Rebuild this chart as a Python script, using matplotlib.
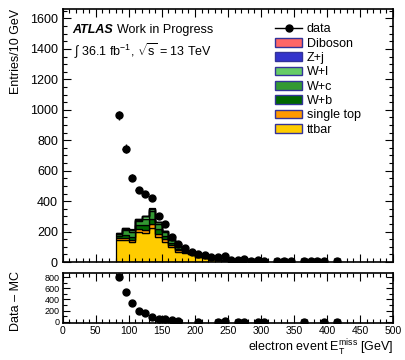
import numpy as np
import matplotlib.pyplot as plt
from matplotlib.lines import Line2D
from matplotlib.patches import Patch
from matplotlib.ticker import MultipleLocator

plt.rcParams["font.family"] = ["Liberation Sans", "DejaVu Sans"]
plt.rcParams["mathtext.fontset"] = "custom"
plt.rcParams["mathtext.rm"] = "Liberation Sans"
plt.rcParams["mathtext.it"] = "Liberation Sans:italic"
plt.rcParams["mathtext.bf"] = "Liberation Sans:bold"

nan = np.nan

# MC stack, 10 GeV bins from 80 to 300 GeV (zero above)
mc_edges = np.arange(80, 310, 10)
ttbar = [144, 144, 133, 199, 192, 221, 162, 133, 100, 68, 57, 50, 33, 28, 18, 14, 9, 5, 4, 3, 2, 2]
single_top = [12, 14, 12, 18, 18, 30, 25, 15, 12, 8, 6, 5, 3, 2, 2, 1, 1, 1, 1, 0, 0, 0]
w_b = [15, 20, 20, 25, 30, 30, 30, 22, 15, 10, 8, 5, 3, 2, 1, 1, 1, 0, 0, 0, 0, 0]
w_c = [12, 30, 35, 25, 45, 55, 35, 25, 18, 14, 8, 5, 3, 2, 2, 1, 1, 1, 0, 0, 0, 0]
w_l = [3, 10, 10, 10, 15, 12, 10, 8, 5, 3, 2, 1, 1, 1, 1, 0, 0, 0, 0, 0, 0, 0]
z_j = [2, 3, 3, 3, 3, 3, 2, 2, 2, 1, 1, 1, 1, 0, 0, 0, 0, 0, 0, 0, 0, 0]
diboson = [1, 1, 1, 1, 1, 1, 1, 1, 0, 0, 0, 0, 0, 0, 0, 0, 0, 0, 0, 0, 0, 0]

stack_names = ["ttbar", "single top", "W+b", "W+c", "W+l", "Z+j", "Diboson"]
stack_values = [ttbar, single_top, w_b, w_c, w_l, z_j, diboson]
stack_colors = ["#ffcc00", "#ff9900", "#006600", "#339933", "#66cc66", "#3333cc", "#ff6666"]

# data, bin centres 85..415 GeV
data_centers = np.arange(85, 420, 10)
data = [964, 745, 553, 472, 448, 422, 304, 247, 166, 116,
        90, 68, 52, 46, 35, 31, 41, 13, 13, 20,
        5, 10, 8, nan, 6, 6, 6, nan, 6, 6,
        6, 6, nan, 6]
data_minus_mc = [795, 529, 343, 198, 150, 90, 54, 42, 24, 12,
                 nan, nan, 2, nan, nan, 0, 18, nan, 0, 0,
                 nan, 0, 0, nan, nan, nan, nan, nan, 0, nan,
                 nan, 0, nan, 0]

fig = plt.figure(figsize=(4.05, 3.6), dpi=100)
ax = fig.add_axes([0.155, 0.2722, 0.8156, 0.7019])
rax = fig.add_axes([0.155, 0.1019, 0.8156, 0.1406])

# stacked histogram
bottom = np.zeros(len(mc_edges) - 1)
for name, vals, col in zip(stack_names, stack_values, stack_colors):
    vals = np.array(vals, dtype=float)
    ax.stairs(bottom + vals, mc_edges, baseline=bottom, fill=True,
              facecolor=col, edgecolor="black", linewidth=0.9)
    bottom = bottom + vals

data = np.array(data, dtype=float)
ax.errorbar(data_centers, data, yerr=np.sqrt(data), xerr=5, fmt="o", color="black",
            markersize=5, elinewidth=1, capsize=0)

ax.set_xlim(0, 500)
ax.set_ylim(0, 1660)
ax.xaxis.set_major_locator(MultipleLocator(50))
ax.xaxis.set_minor_locator(MultipleLocator(10))
ax.yaxis.set_major_locator(MultipleLocator(200))
ax.yaxis.set_minor_locator(MultipleLocator(50))
ax.tick_params(which="both", direction="in", top=True, right=True, labelbottom=False)
ax.tick_params(which="major", length=6, width=0.8, labelsize=9)
ax.tick_params(which="minor", length=3, width=0.8)
for s in ax.spines.values():
    s.set_linewidth(1.2)

ax.set_ylabel("Entries/10 GeV", fontsize=9, loc="top")
ax.yaxis.set_label_coords(-0.122, 1.0)

ax.text(0.03, 0.905, "ATLAS", transform=ax.transAxes, fontsize=9,
        fontweight="bold", fontstyle="italic")
ax.text(0.165, 0.905, "Work in Progress", transform=ax.transAxes, fontsize=9)
ax.text(0.035, 0.815, r"$\int$ 36.1 fb$^{-1}$, $\sqrt{\mathrm{s}}$ = 13 TeV",
        transform=ax.transAxes, fontsize=9)

handles = [Line2D([], [], color="black", marker="o", markersize=5, linewidth=1)]
labels = ["data"]
for name, col in zip(stack_names[::-1], stack_colors[::-1]):
    handles.append(Patch(facecolor=col, edgecolor="#333399", linewidth=1))
    labels.append(name)
ax.legend(handles, labels, loc="upper left", bbox_to_anchor=(0.625, 0.97),
          frameon=False, fontsize=9, borderpad=0, labelspacing=0.19,
          handlelength=2.1, handleheight=0.7, handletextpad=0.4)

# Data - MC panel
rax.plot(data_centers, data_minus_mc, "o", color="black", markersize=5)
rax.set_xlim(0, 500)
rax.set_ylim(-30, 880)
rax.xaxis.set_major_locator(MultipleLocator(50))
rax.xaxis.set_minor_locator(MultipleLocator(10))
rax.yaxis.set_major_locator(MultipleLocator(200))
rax.yaxis.set_minor_locator(MultipleLocator(100))
rax.tick_params(which="both", direction="in", top=True, right=True)
rax.tick_params(axis="x", which="major", length=6, width=0.8, labelsize=7.5, pad=2)
rax.tick_params(axis="y", which="major", length=5, width=0.8, labelsize=6.5, pad=2)
rax.tick_params(which="minor", length=3, width=0.8)
for s in rax.spines.values():
    s.set_linewidth(1.2)

rax.set_ylabel("Data \u2013 MC", fontsize=9)
rax.yaxis.set_label_coords(-0.122, 0.45)
rax.set_xlabel(r"electron event E$_{\mathrm{T}}^{\mathrm{miss}}$ [GeV]", fontsize=9, loc="right")
rax.xaxis.set_label_coords(1.0, -0.29)

fig.savefig("out.png", dpi=100)
